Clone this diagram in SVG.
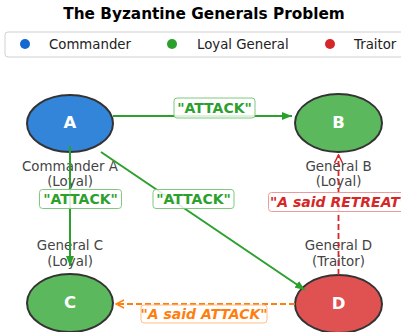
<svg xmlns="http://www.w3.org/2000/svg" width="401" height="332" viewBox="0 0 401 332">
  <style>
    text { font-family: "DejaVu Sans", "Liberation Sans", sans-serif; }
    .title { font-size: 15.3px; font-weight: bold; fill: #000; }
    .legend { font-size: 13.3px; fill: #222; }
    .node { stroke: #333; stroke-width: 2; }
    .letter { font-size: 16.5px; font-weight: bold; fill: #fff; text-anchor: middle; }
    .caption { font-size: 13.4px; fill: #444; text-anchor: middle; }
    .msg { font-size: 14px; font-weight: bold; text-anchor: middle; }
    .lie { font-style: italic; }
    .box { fill: #fff; fill-opacity: 0.85; stroke-width: 1; }
  </style>
  <defs>
    <marker id="headGreen" viewBox="0 0 10 8" refX="10" refY="4" markerWidth="10" markerHeight="8" markerUnits="userSpaceOnUse" orient="auto">
      <path d="M0,0 L10,4 L0,8 z" fill="#2ca02c"/>
    </marker>
    <marker id="headRed" viewBox="0 0 10 10" refX="9" refY="5" markerWidth="10" markerHeight="10" markerUnits="userSpaceOnUse" orient="auto">
      <path d="M1,1 L9,5 L1,9" fill="none" stroke="#d62728" stroke-width="1.5"/>
    </marker>
    <marker id="headOrange" viewBox="0 0 10 10" refX="9" refY="5" markerWidth="10" markerHeight="10" markerUnits="userSpaceOnUse" orient="auto">
      <path d="M1,1 L9,5 L1,9" fill="none" stroke="#ff7f0e" stroke-width="1.5"/>
    </marker>
  </defs>

  <rect width="401" height="332" fill="#fff"/>

  <text class="title" x="204" y="19" text-anchor="middle">The Byzantine Generals Problem</text>

  <!-- legend -->
  <g id="legend">
    <rect x="5" y="32" width="402" height="25" rx="3" fill="#fff" stroke="#d0d0d0" stroke-width="1"/>
    <circle cx="25" cy="44" r="5" fill="#1468d0"/>
    <text class="legend" x="49" y="49">Commander</text>
    <circle cx="172" cy="44" r="5" fill="#2ca02c"/>
    <text class="legend" x="197" y="49">Loyal General</text>
    <circle cx="330" cy="44" r="5" fill="#d62728"/>
    <text class="legend" x="354" y="49">Traitor</text>
  </g>

  <!-- generals -->
  <g id="nodeA">
    <ellipse class="node" cx="70" cy="123.5" rx="43" ry="28.5" fill="#3385d9"/>
    <text class="letter" x="70" y="128">A</text>
    <text class="caption" x="70" y="170.5">Commander A</text>
    <text class="caption" x="70" y="186">(Loyal)</text>
  </g>
  <g id="nodeB">
    <ellipse class="node" cx="338.5" cy="123" rx="43.5" ry="29" fill="#5cb85c"/>
    <text class="letter" x="338.5" y="128.3">B</text>
    <text class="caption" x="338.5" y="170.5">General B</text>
    <text class="caption" x="338.5" y="186">(Loyal)</text>
  </g>
  <g id="nodeC">
    <ellipse class="node" cx="70" cy="303" rx="43" ry="29" fill="#5cb85c"/>
    <text class="letter" x="70" y="308.3">C</text>
    <text class="caption" x="70" y="250">General C</text>
    <text class="caption" x="70" y="266">(Loyal)</text>
  </g>
  <g id="nodeD">
    <ellipse class="node" cx="338.5" cy="304" rx="43.5" ry="29" fill="#e05252"/>
    <text class="letter" x="338.5" y="309.3">D</text>
    <text class="caption" x="338.5" y="250">General D</text>
    <text class="caption" x="338.5" y="266">(Traitor)</text>
  </g>

  <!-- messages -->
  <g id="connectors">
    <line x1="113" y1="116" x2="292" y2="116" stroke="#2ca02c" stroke-width="2" marker-end="url(#headGreen)"/>
    <line x1="70" y1="146" x2="70" y2="266" stroke="#2ca02c" stroke-width="2" marker-end="url(#headGreen)"/>
    <line x1="101" y1="152" x2="305" y2="290" stroke="#2ca02c" stroke-width="2" marker-end="url(#headGreen)"/>
    <line x1="338.5" y1="275" x2="338.5" y2="155" stroke="#d62728" stroke-width="1.8" stroke-dasharray="6,3" marker-end="url(#headRed)"/>
    <line x1="295" y1="304" x2="116" y2="304" stroke="#ff7f0e" stroke-width="1.8" stroke-dasharray="6,3" marker-end="url(#headOrange)"/>

    <rect class="box" x="174" y="98" width="81" height="20" rx="3" stroke="#7fc97f"/>
    <text class="msg" x="214.5" y="113" fill="#2ca02c">"ATTACK"</text>

    <rect class="box" x="39.5" y="189.5" width="82" height="19" rx="3" stroke="#7fc97f"/>
    <text class="msg" x="80.5" y="204" fill="#2ca02c">"ATTACK"</text>

    <rect class="box" x="153" y="189.5" width="81" height="19" rx="3" stroke="#7fc97f"/>
    <text class="msg" x="193.5" y="204" fill="#2ca02c">"ATTACK"</text>

    <rect class="box" x="268.5" y="192.5" width="140" height="19" rx="3" stroke="#ec9a9b"/>
    <text class="msg lie" x="338.5" y="207" fill="#d62728">"A said RETREAT"</text>

    <rect class="box" x="141" y="305" width="126" height="18" rx="3" stroke="#ffbf86"/>
    <text class="msg lie" x="204" y="319" fill="#ff7f0e">"A said ATTACK"</text>
  </g>
</svg>
